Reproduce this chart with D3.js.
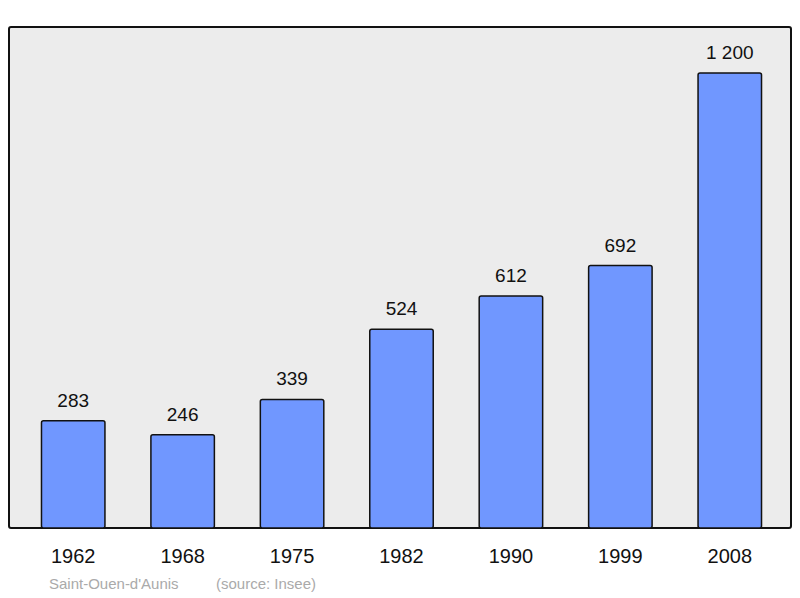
<!DOCTYPE html>
<html><head><meta charset="utf-8">
<script src="https://cdn.jsdelivr.net/npm/d3@7"></script>
<style>body{margin:0;background:#fff}</style></head>
<body><svg id="c" width="800" height="598"></svg>
<script>
const years = ["1962","1968","1975","1982","1990","1999","2008"];
const population = [283,246,339,524,612,692,1200];
const valueLabels = ["283","246","339","524","612","692","1 200"];
const svg = d3.select("#c");
const font = "Liberation Sans, Arial, sans-serif";
svg.append("rect").attr("x",9).attr("y",27).attr("width",782).attr("height",501)
  .attr("rx",2).attr("fill","#ececec").attr("stroke","#111").attr("stroke-width",2);
const x = d3.scaleBand().domain(years).range([18.5,784.5]).paddingInner(0.42).paddingOuter(0.21);
const y = d3.scaleLinear().domain([0,1200]).range([528,73]);
svg.selectAll(".bar").data(years).enter().append("rect")
  .attr("x",d=>x(d)).attr("width",x.bandwidth())
  .attr("y",(d,i)=>y(population[i])).attr("height",(d,i)=>528-y(population[i]))
  .attr("rx",2).attr("fill","#7097ff").attr("stroke","#111").attr("stroke-width",1.5);
svg.selectAll(".vl").data(years).enter().append("text")
  .attr("x",d=>x(d)+x.bandwidth()/2).attr("y",(d,i)=>y(population[i])-14)
  .attr("text-anchor","middle").attr("font-family",font).attr("font-size",19).attr("fill","#111")
  .text((d,i)=>valueLabels[i]);
svg.selectAll(".yl").data(years).enter().append("text")
  .attr("x",d=>x(d)+x.bandwidth()/2).attr("y",563)
  .attr("text-anchor","middle").attr("font-family",font).attr("font-size",20).attr("fill","#111")
  .text(d=>d);
svg.append("text").attr("x",49).attr("y",589).attr("font-family",font).attr("font-size",15)
  .attr("fill","#aaa").text("Saint-Ouen-d'Aunis");
svg.append("text").attr("x",216).attr("y",589).attr("font-family",font).attr("font-size",15)
  .attr("fill","#aaa").text("(source: Insee)");
</script></body></html>
